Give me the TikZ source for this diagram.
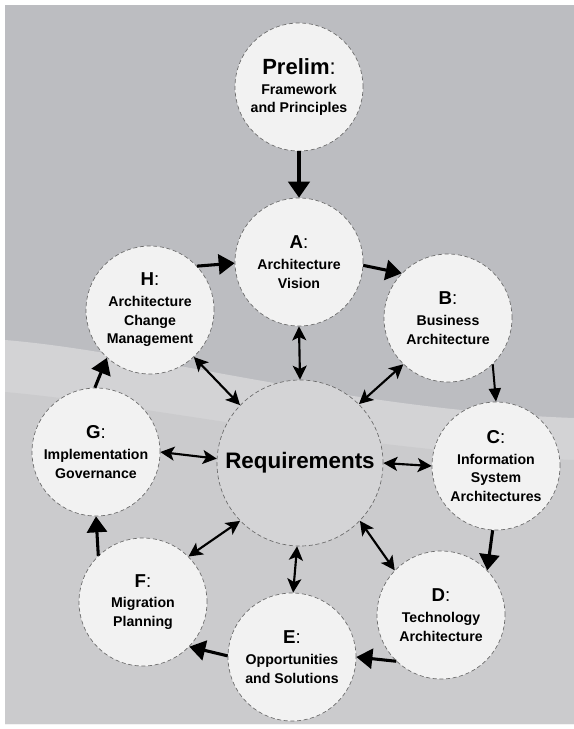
\documentclass[tikz,border=0pt]{standalone}
\usepackage{fontspec}
\newfontfamily\lab{Liberation Sans}
\usetikzlibrary{arrows.meta}
\definecolor{bgtop}{HTML}{BCBDC1}
\definecolor{bgbot}{HTML}{CBCBCD}
\definecolor{bgband}{HTML}{D3D3D5}
\definecolor{stagefill}{HTML}{F2F2F2}
\definecolor{reqfill}{HTML}{D4D4D6}
\definecolor{rim}{HTML}{6A6A6A}
\begin{document}
\begin{tikzpicture}[x=0.75pt,y=-0.75pt,
  stage/.style={circle, fill=stagefill, draw=rim, densely dashed, line width=0.5pt,
    minimum size=96pt, inner sep=0pt, align=center,
    font=\lab\bfseries\fontsize{10.6}{14}\selectfont},
  reqnode/.style={stage, fill=reqfill, minimum size=124.5pt,
    font=\lab\bfseries\fontsize{16.8}{18}\selectfont},
  flow/.style={line width=2.3pt, -{Triangle[length=12pt,width=15pt]}},
  thinflow/.style={line width=1.5pt, -{Triangle[length=10pt,width=9pt]}},
  both/.style={line width=1.6pt, {Stealth[length=10.5pt,width=10.5pt,inset=2.5pt]}-{Stealth[length=10.5pt,width=10.5pt,inset=2.5pt]}}
]
% background
\fill[white] (0,0) rectangle (574,729);
\fill[bgtop] (5,5) rectangle (574,724);
\fill[bgband] (5,340) .. controls (150,352) and (350,410) .. (574,418)
  -- (574,724) -- (5,724) -- cycle;
\fill[bgbot] (5,392) .. controls (150,405) and (350,450) .. (574,460)
  -- (574,724) -- (5,724) -- cycle;

% stages
\node[stage] (P) at (299,87) {{\fontsize{16.5}{17}\selectfont Prelim\mdseries:}\\[1pt] Framework\\ and Principles};
\node[stage] (A) at (299,262) {{\fontsize{14}{15}\selectfont A\mdseries:}\\[1.5pt] Architecture\\ Vision};
\node[stage] (H) at (150,310) {{\fontsize{14}{15}\selectfont H\mdseries:}\\[1.5pt] Architecture\\ Change\\ Management};
\node[stage] (B) at (448,318) {{\fontsize{14}{15}\selectfont B\mdseries:}\\[1.5pt] Business\\ Architecture};
\node[stage] (C) at (496,466) {{\fontsize{14}{15}\selectfont C\mdseries:}\\[1.5pt] Information\\ System\\ Architectures};
\node[stage] (G) at (96,452) {{\fontsize{14}{15}\selectfont G\mdseries:}\\[1.5pt] Implementation\\ Governance};
\node[reqnode] (R) at (300,463) {Requirements};
\node[stage] (F) at (143,602) {{\fontsize{14}{15}\selectfont F\mdseries:}\\[1.5pt] Migration\\ Planning};
\node[stage] (E) at (292,657) {{\fontsize{14}{15}\selectfont E\mdseries:}\\[1.5pt] Opportunities\\ and Solutions};
\node[stage] (D) at (441,615) {{\fontsize{14}{15}\selectfont D\mdseries:}\\[1.5pt] Technology\\ Architecture};

% cycle arrows
\draw[flow, line width=2.6pt, -{Triangle[length=12pt,width=16pt]}] (P.south) -- (A.north);
\draw[flow] (H.43) -- (A.181);
\draw[flow] (A.-3) -- (B.136);
\draw[thinflow] (B.-46) -- (C.90);
\draw[flow] (C.267) -- (D.44);
\draw[flow] (D.226) -- (E.0);
\draw[flow] (E.179) -- (F.-44);
\draw[flow] (F.134) -- (G.270);
\draw[flow] (G.91) -- (H.228);

% requirements links
\draw[both] (A.270) -- (R.90);
\draw[both] (H.-47) -- (R.136);
\draw[both] (B.226) -- (R.45);
\draw[both] (G.0) -- (R.177);
\draw[both] (C.180) -- (R.0);
\draw[both] (F.45) -- (R.224);
\draw[both] (E.89) -- (R.268);
\draw[both] (D.136) -- (R.-44);
\end{tikzpicture}
\end{document}
